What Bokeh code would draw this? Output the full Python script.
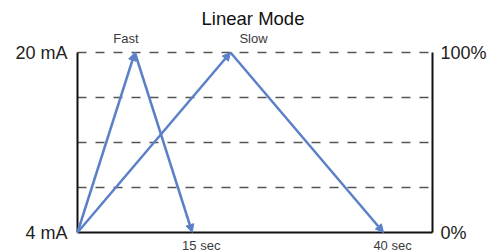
from bokeh.plotting import figure
from bokeh.models import Arrow, NormalHead, ColumnDataSource, Label, Range1d
from bokeh.embed import file_html
from bokeh.resources import INLINE

# ---- data ----
fast_time = [0, 7.5, 15]
fast_mA = [4, 20, 4]
slow_time = [0, 20, 40]
slow_mA = [4, 20, 4]
x_max = 46.4
y_min, y_max = 4, 20
grid_levels = [8, 12, 16, 20]
left_labels = ["4 mA", "20 mA"]
right_labels = ["0%", "100%"]
fast_end_label = "15 sec"
slow_end_label = "40 sec"
title_text = "Linear Mode"

BLUE = "#5b80c8"
FONT = "Liberation Sans"

# layout (pixels): frame of the data area inside the canvas
W, H = 489, 252
px_left, px_right, px_top, px_bottom = 77, 432, 52, 232
sx = (px_right - px_left) / x_max
sy = (px_bottom - px_top) / (y_max - y_min)
x_range = Range1d(-px_left / sx, x_max + (W - px_right) / sx)
y_range = Range1d(y_min - (H - px_bottom) / sy, y_max + px_top / sy)

p = figure(width=W, height=H, output_backend="svg", toolbar_location=None,
           x_axis_location=None, y_axis_location=None,
           x_range=x_range, y_range=y_range,
           min_border=0, min_border_left=0, min_border_right=0,
           min_border_top=0, min_border_bottom=0)
p.outline_line_color = None
p.xgrid.visible = False
p.ygrid.visible = False

# dashed grid
p.segment(x0=[0] * len(grid_levels), x1=[x_max] * len(grid_levels),
          y0=grid_levels, y1=grid_levels,
          line_color="#555555", line_width=1.5, line_dash="9 9")

# axis lines
p.segment(x0=[0, x_max, 0], x1=[0, x_max, x_max],
          y0=[y_min, y_min, y_min], y1=[y_max, y_max, y_min],
          line_color="#111111", line_width=2)

# arrows
def add_arrows(xs, ys):
    src = ColumnDataSource(dict(x0=xs[:-1], y0=ys[:-1], x1=xs[1:], y1=ys[1:]))
    p.add_layout(Arrow(source=src, x_start="x0", y_start="y0", x_end="x1", y_end="y1",
                       line_color=BLUE, line_width=2.5,
                       end=NormalHead(size=8, fill_color=BLUE, line_color=BLUE, line_width=1)))

add_arrows(fast_time, fast_mA)
add_arrows(slow_time, slow_mA)

def lab(x, y, text, size, xo=0, yo=0, align="center", baseline="middle", color="#222222"):
    p.add_layout(Label(x=x, y=y, text=text, x_offset=xo, y_offset=yo,
                       text_align=align, text_baseline=baseline,
                       text_font=FONT, text_font_size=f"{size}px", text_color=color))

lab(0, y_min, left_labels[0], 18, xo=-10, align="right")
lab(0, y_max, left_labels[1], 18, xo=-10, align="right")
lab(x_max, y_min, right_labels[0], 18, xo=8, align="left")
lab(x_max, y_max, right_labels[1], 18, xo=8, align="left")

lab(fast_time[-1], y_min, fast_end_label, 13, xo=9, yo=-5, baseline="top", color="#3a3a3a")
lab(slow_time[-1], y_min, slow_end_label, 13, xo=9, yo=-5, baseline="top", color="#3a3a3a")
lab(fast_time[1], y_max, "Fast", 13, xo=-9, yo=14, baseline="alphabetic", color="#3a3a3a")
lab(slow_time[1], y_max, "Slow", 13, xo=23, yo=14, baseline="alphabetic", color="#3a3a3a")

lab(x_max / 2, y_max, title_text, 18.5, xo=-2, yo=34, baseline="alphabetic", color="#111111")

open("out.html", "w").write(file_html(p, INLINE))
